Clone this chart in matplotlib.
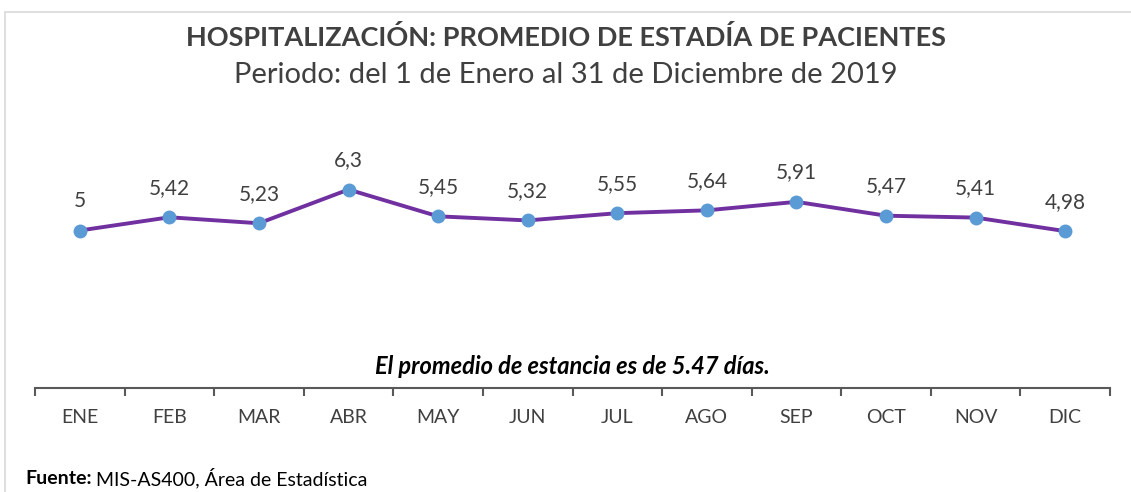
import numpy as np
import matplotlib.pyplot as plt
from matplotlib.patches import Rectangle

plt.rcParams['font.family'] = ['Lato', 'DejaVu Sans']

meses = ['ENE', 'FEB', 'MAR', 'ABR', 'MAY', 'JUN', 'JUL', 'AGO', 'SEP', 'OCT', 'NOV', 'DIC']
promedio = [5, 5.42, 5.23, 6.3, 5.45, 5.32, 5.55, 5.64, 5.91, 5.47, 5.41, 4.98]
etiquetas = ['5', '5,42', '5,23', '6,3', '5,45', '5,32', '5,55', '5,64', '5,91', '5,47', '5,41', '4,98']

gris = '#404040'
fig = plt.figure(figsize=(11.31, 4.92), dpi=100)
# marco gris claro del grafico
fig.patches.append(Rectangle((5 / 1131, -0.1), 1.2, (492 - 12) / 492 + 0.1,
                             transform=fig.transFigure, fill=False,
                             edgecolor='#d9d9d9', linewidth=1.2))

ax = fig.add_axes([35 / 1131, 104 / 492, 1075 / 1131, 252 / 492])
x = np.arange(len(meses))
ax.plot(x, promedio, color='#7030A0', linewidth=2.8, marker='o',
        markersize=9, markerfacecolor='#5B9BD5', markeredgecolor='#5B9BD5', zorder=3)
for xi, v, t in zip(x, promedio, etiquetas):
    ax.annotate(t, (xi, v), xytext=(0, 14), textcoords='offset points',
                ha='center', va='bottom', fontsize=15, color=gris)

ax.set_xlim(-0.5, 11.5)
ax.set_ylim(0, 8)
for s in ['top', 'right', 'left']:
    ax.spines[s].set_visible(False)
ax.spines['bottom'].set_color('#595959')
ax.spines['bottom'].set_linewidth(1.5)
ax.set_yticks([])
ax.set_xticks(np.arange(-0.5, 12, 1))
ax.set_xticklabels([])
ax.tick_params(axis='x', which='major', length=6, width=1.5, color='#595959')
ax.set_xticks(x, minor=True)
ax.set_xticklabels(meses, minor=True)
ax.tick_params(axis='x', which='minor', length=0, pad=15, labelsize=14, labelcolor=gris)

ax.text(5.5, 0.33, 'El promedio de estancia es de 5.47 días.', ha='center', va='bottom',
        fontsize=17, fontweight='bold', fontstyle='italic', color='black')

fig.text(566 / 1131, 1 - 37 / 492, 'HOSPITALIZACIÓN: PROMEDIO DE ESTADÍA DE PACIENTES',
         ha='center', va='center', fontsize=19.5, fontweight='bold', color=gris)
fig.text(566 / 1131, 1 - 75 / 492, 'Periodo: del 1 de Enero al 31 de Diciembre de 2019',
         ha='center', va='center', fontsize=21, color=gris)

t1 = fig.text(25 / 1131, 1 - 478 / 492, 'Fuente:', ha='left', va='center',
              fontsize=14, fontweight='bold', color='black')
fig.canvas.draw()
bb = t1.get_window_extent()
fig.text((bb.x1 + 4) / 1131, 1 - 478 / 492, 'MIS-AS400, Área de Estadística',
         ha='left', va='center', fontsize=14, color='black')

fig.savefig('out.png', dpi=100)
